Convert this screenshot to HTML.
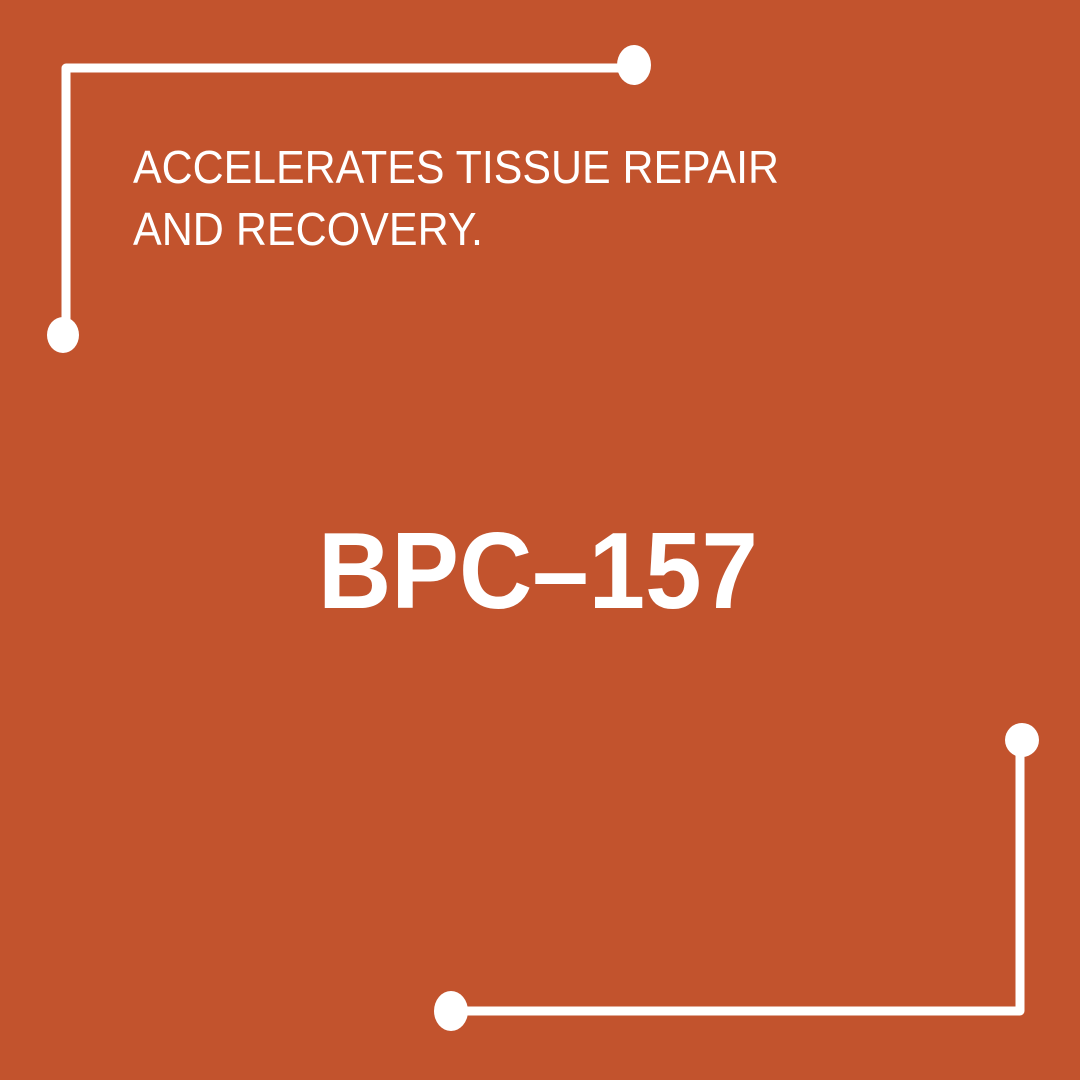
<!DOCTYPE html>
<html><head><meta charset="utf-8"><style>
html,body{margin:0;padding:0;background:#C2532D;}
svg{display:block}
</style></head><body>
<svg width="1080" height="1080" viewBox="0 0 1080 1080" xmlns="http://www.w3.org/2000/svg">
<rect width="1080" height="1080" fill="#C2532D"/>
<g stroke="#fff" stroke-width="9" fill="none" stroke-linecap="round" stroke-linejoin="round">
<polyline points="630,68 66,68 66,335"/>
<polyline points="1020,740 1020,1011 452,1011"/>
</g>
<g fill="#fff">
<ellipse cx="634" cy="65" rx="17" ry="20"/>
<ellipse cx="63" cy="335" rx="16" ry="18"/>
<ellipse cx="1022" cy="740" rx="17" ry="17"/>
<ellipse cx="451" cy="1011" rx="17" ry="20"/>
</g>
<g fill="#fff" font-family="Liberation Sans, sans-serif">
<text x="133" y="183" font-size="46" textLength="646" lengthAdjust="spacingAndGlyphs">ACCELERATES TISSUE REPAIR</text>
<text x="133" y="245" font-size="46" textLength="350" lengthAdjust="spacingAndGlyphs">AND RECOVERY.</text>
<text x="318" y="608" font-size="109" font-weight="bold" textLength="440" lengthAdjust="spacingAndGlyphs">BPC–157</text>
</g>
</svg>
</body></html>
